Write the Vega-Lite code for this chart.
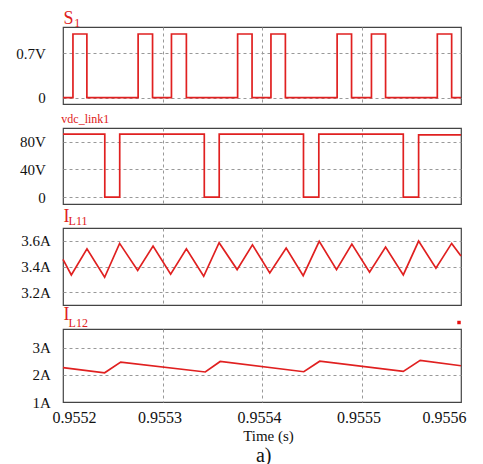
{
  "$schema": "https://vega.github.io/schema/vega-lite/v6.json",
  "padding": {"left": 15, "top": 9, "right": 5, "bottom": 0},
  "background": "white",
  "spacing": 24,
  "bounds": "flush",
  "config": {
    "font": "Liberation Serif",
    "view": {"stroke": "#444444", "strokeWidth": 1.2},
    "axis": {
      "labelFont": "Liberation Serif",
      "labelColor": "#111111",
      "labelFontSize": 15,
      "labelOverlap": false,
      "gridColor": "#999999",
      "gridDash": [3, 3],
      "gridWidth": 1,
      "ticks": false,
      "tickSize": 0,
      "domain": false
    },
    "line": {"color": "#e02020", "strokeWidth": 1.7},
    "text": {"font": "Liberation Serif", "color": "#e02020"}
  },
  "datasets": {
    "s1": [
      {"t": 0.9552, "v": 0}, {"t": 0.95521, "v": 1}, {"t": 0.955224, "v": 0},
      {"t": 0.9552755, "v": 1}, {"t": 0.95529, "v": 0}, {"t": 0.955309, "v": 1},
      {"t": 0.955324, "v": 0}, {"t": 0.9553755, "v": 1}, {"t": 0.95539, "v": 0},
      {"t": 0.955409, "v": 1}, {"t": 0.9554235, "v": 0}, {"t": 0.9554755, "v": 1},
      {"t": 0.95549, "v": 0}, {"t": 0.95551, "v": 1}, {"t": 0.9555242, "v": 0},
      {"t": 0.9555762, "v": 1}, {"t": 0.9555906, "v": 0}, {"t": 0.9556, "v": 0}
    ],
    "vdc": [
      {"t": 0.9552, "v": 91}, {"t": 0.955242, "v": 0}, {"t": 0.955257, "v": 91},
      {"t": 0.955342, "v": 0}, {"t": 0.955357, "v": 91}, {"t": 0.9554417, "v": 0},
      {"t": 0.9554571, "v": 91}, {"t": 0.955542, "v": 0}, {"t": 0.9555574, "v": 90},
      {"t": 0.9556, "v": 90}
    ],
    "il11": [
      {"t": 0.9552, "v": 3.455}, {"t": 0.95520835, "v": 3.334}, {"t": 0.9552241, "v": 3.538},
      {"t": 0.95524185, "v": 3.316}, {"t": 0.9552569, "v": 3.58}, {"t": 0.95527505, "v": 3.369},
      {"t": 0.9552905, "v": 3.559}, {"t": 0.9553082, "v": 3.34}, {"t": 0.955324, "v": 3.538},
      {"t": 0.9553414, "v": 3.324}, {"t": 0.9553569, "v": 3.585}, {"t": 0.955375, "v": 3.376},
      {"t": 0.9553904, "v": 3.569}, {"t": 0.9554078, "v": 3.35}, {"t": 0.9554243, "v": 3.544},
      {"t": 0.9554414, "v": 3.329}, {"t": 0.9554575, "v": 3.596}, {"t": 0.9554749, "v": 3.376},
      {"t": 0.9554903, "v": 3.575}, {"t": 0.9555081, "v": 3.355}, {"t": 0.9555242, "v": 3.551},
      {"t": 0.955542, "v": 3.334}, {"t": 0.9555574, "v": 3.598}, {"t": 0.9555748, "v": 3.387},
      {"t": 0.9555906, "v": 3.58}, {"t": 0.9556, "v": 3.481}
    ],
    "il12": [
      {"t": 0.9552, "v": 2.27}, {"t": 0.95524185, "v": 2.08}, {"t": 0.955258, "v": 2.475},
      {"t": 0.955343, "v": 2.11}, {"t": 0.955358, "v": 2.5}, {"t": 0.955442, "v": 2.12},
      {"t": 0.955458, "v": 2.51}, {"t": 0.955542, "v": 2.13}, {"t": 0.955559, "v": 2.54},
      {"t": 0.9556, "v": 2.34}
    ],
    "marker": [{"t": 0.955598, "v": 3.94}]
  },
  "vconcat": [
    {
      "width": 398, "height": 77,
      "layer": [
        {
          "data": {"name": "s1"},
          "mark": {"type": "line", "interpolate": "step-after"},
          "encoding": {
            "x": {"field": "t", "type": "quantitative", "title": null,
                  "scale": {"domain": [0.9552, 0.9556], "nice": false, "zero": false},
                  "axis": {"values": [0.9553, 0.9554, 0.9555], "tickCount": 20, "labels": false, "grid": true}},
            "y": {"field": "v", "type": "quantitative", "title": null,
                  "scale": {"domain": [-0.1, 1.11], "nice": false, "zero": false},
                  "axis": {"values": [0, 0.7], "tickCount": 20, "labelExpr": "datum.value == 0 ? '0' : '0.7V'", "labelPadding": 17.7, "grid": true}}
          }
        },
        {
          "data": {"values": [{}]},
          "mark": {"type": "text", "align": "left", "baseline": "alphabetic", "fontSize": 18, "dy": -3, "dx": 0.6},
          "encoding": {"x": {"datum": 0.9552, "type": "quantitative"}, "y": {"datum": 1.11, "type": "quantitative"}, "text": {"value": "S"}}
        },
        {
          "data": {"values": [{}]},
          "mark": {"type": "text", "align": "left", "baseline": "alphabetic", "fontSize": 12, "dy": 0, "dx": 11.3},
          "encoding": {"x": {"datum": 0.9552, "type": "quantitative"}, "y": {"datum": 1.11, "type": "quantitative"}, "text": {"value": "1"}}
        }
      ]
    },
    {
      "width": 398, "height": 76,
      "layer": [
        {
          "data": {"name": "vdc"},
          "mark": {"type": "line", "interpolate": "step-after"},
          "encoding": {
            "x": {"field": "t", "type": "quantitative", "title": null,
                  "scale": {"domain": [0.9552, 0.9556], "nice": false, "zero": false},
                  "axis": {"values": [0.9553, 0.9554, 0.9555], "tickCount": 20, "labels": false, "grid": true}},
            "y": {"field": "v", "type": "quantitative", "title": null,
                  "scale": {"domain": [-10, 100], "nice": false, "zero": false},
                  "axis": {"values": [0, 40, 80], "tickCount": 20, "labelExpr": "datum.value == 0 ? '0' : datum.value + 'V'", "labelPadding": 17.7, "grid": true}}
          }
        },
        {
          "data": {"values": [{}]},
          "mark": {"type": "text", "align": "left", "baseline": "alphabetic", "fontSize": 12, "dy": -5.3, "dx": -1.7},
          "encoding": {"x": {"datum": 0.9552, "type": "quantitative"}, "y": {"datum": 100, "type": "quantitative"}, "text": {"value": "vdc_link1"}}
        }
      ]
    },
    {
      "width": 398, "height": 77,
      "layer": [
        {
          "data": {"name": "il11"},
          "mark": {"type": "line"},
          "encoding": {
            "x": {"field": "t", "type": "quantitative", "title": null,
                  "scale": {"domain": [0.9552, 0.9556], "nice": false, "zero": false},
                  "axis": {"values": [0.9553, 0.9554, 0.9555], "tickCount": 20, "labels": false, "grid": true}},
            "y": {"field": "v", "type": "quantitative", "title": null,
                  "scale": {"domain": [3.1, 3.7], "nice": false, "zero": false},
                  "axis": {"values": [3.2, 3.4, 3.6], "tickCount": 20, "labelExpr": "format(datum.value, '.1f') + 'A'", "labelPadding": 12.7, "grid": true}}
          }
        },
        {
          "data": {"values": [{}]},
          "mark": {"type": "text", "align": "left", "baseline": "alphabetic", "fontSize": 18, "dy": -6.3, "dx": 0.6},
          "encoding": {"x": {"datum": 0.9552, "type": "quantitative"}, "y": {"datum": 3.7, "type": "quantitative"}, "text": {"value": "I"}}
        },
        {
          "data": {"values": [{}]},
          "mark": {"type": "text", "align": "left", "baseline": "alphabetic", "fontSize": 12, "dy": -3.3, "dx": 5.6},
          "encoding": {"x": {"datum": 0.9552, "type": "quantitative"}, "y": {"datum": 3.7, "type": "quantitative"}, "text": {"value": "L11"}}
        }
      ]
    },
    {
      "width": 398, "height": 73,
      "layer": [
        {
          "data": {"name": "il12"},
          "mark": {"type": "line"},
          "encoding": {
            "x": {"field": "t", "type": "quantitative", "title": "Time (s)",
                  "scale": {"domain": [0.9552, 0.9556], "nice": false, "zero": false},
                  "axis": {"values": [0.9552, 0.9553, 0.9554, 0.9555, 0.9556], "tickCount": 20, "format": ".4f", "grid": true,
                           "gridOpacity": {"condition": {"test": "datum.value < 0.95525 || datum.value > 0.95555", "value": 0}, "value": 1},
                           "labelFontSize": 16, "labelPadding": 7, "labelFlush": true, "labelFlushOffset": 8, "labelOffset": -3,
                           "titleFont": "Liberation Serif", "titleFontSize": 15, "titleFontWeight": "normal", "titleColor": "#111111", "titlePadding": 3, "titleX": 205}},
            "y": {"field": "v", "type": "quantitative", "title": null,
                  "scale": {"domain": [1, 3.7], "nice": false, "zero": false},
                  "axis": {"values": [1, 2, 3], "tickCount": 20, "labelExpr": "datum.value + 'A'", "labelPadding": 12.7, "grid": true,
                           "gridOpacity": {"condition": {"test": "datum.value < 1.5", "value": 0}, "value": 1}}}
          }
        },
        {
          "data": {"values": [{}]},
          "mark": {"type": "text", "align": "left", "baseline": "alphabetic", "fontSize": 18, "dy": -8.8, "dx": 0.6},
          "encoding": {"x": {"datum": 0.9552, "type": "quantitative"}, "y": {"datum": 3.7, "type": "quantitative"}, "text": {"value": "I"}}
        },
        {
          "data": {"values": [{}]},
          "mark": {"type": "text", "align": "left", "baseline": "alphabetic", "fontSize": 12, "dy": -2.3, "dx": 5.6},
          "encoding": {"x": {"datum": 0.9552, "type": "quantitative"}, "y": {"datum": 3.7, "type": "quantitative"}, "text": {"value": "L12"}}
        },
        {
          "data": {"name": "marker"},
          "mark": {"type": "point", "shape": "square", "filled": true, "size": 12, "color": "#e81010", "opacity": 1},
          "encoding": {"x": {"field": "t", "type": "quantitative"}, "y": {"field": "v", "type": "quantitative"}}
        },
        {
          "data": {"values": [{}]},
          "mark": {"type": "text", "align": "center", "baseline": "alphabetic", "fontSize": 20, "dy": 59.5, "dx": 1.7, "color": "#111111"},
          "encoding": {"x": {"datum": 0.9554, "type": "quantitative"}, "y": {"datum": 1, "type": "quantitative"}, "text": {"value": "a)"}}
        }
      ]
    }
  ]
}
